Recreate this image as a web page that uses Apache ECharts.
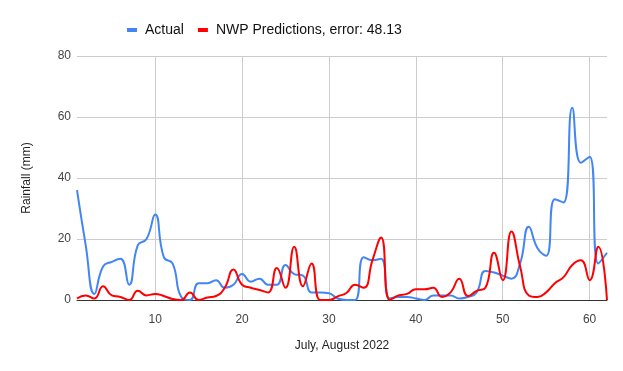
<!DOCTYPE html>
<html>
<head>
<meta charset="utf-8">
<script src="https://cdn.jsdelivr.net/npm/echarts@6/dist/echarts.min.js"></script>
<style>
  html, body { margin: 0; padding: 0; background: #fff; }
  #main { width: 623px; height: 371px; }
</style>
</head>
<body>
<div id="main"></div>
<script>
// day of July/August 2022 (1..62)
var days = [];
for (var d = 1; d <= 62; d++) days.push(d);

var actual = [
  36, 18, 2, 11, 12.5, 13.5, 5, 18, 20, 28,
  14, 12, 1, 0, 5.5, 5.5, 6.5, 4, 5, 8.5,
  6, 7, 5, 5, 11.5, 8.5, 8, 2.5, 2.5, 2.2,
  0.5, 0, 0, 14, 13, 13.5, 0.5, 1, 1, 0.5,
  0, 1.5, 1.5, 1.5, 0.5, 1, 2.5, 9.5, 9, 8,
  7, 12, 24, 17, 14.5, 33, 32, 63, 45, 47,
  12, 15.5
];

var nwp = [
  0.5, 1.5, 0.5, 4.5, 1.5, 1, 0, 3, 1.5, 2,
  1.3, 0.3, 0, 2.5, 0, 0.8, 1.3, 4, 10, 5,
  4, 3.3, 2.5, 10.5, 4, 17.5, 4.5, 12, 0, 0,
  1.2, 2.3, 5, 4, 13, 20.5, 0, 1.5, 2, 3.5,
  3.5, 4, 1, 2.5, 7, 1.3, 3, 4, 15.5, 6.5,
  22.5, 11, 1.5, 1, 2.5, 5.5, 7.5, 11.5, 13, 6.5,
  17.5, 0
];

function pairs(vals) {
  return vals.map(function (v, i) { return [days[i], v]; });
}

var font = 'Arial, "Liberation Sans", sans-serif';

var option = {
  backgroundColor: '#fff',
  animation: false,
  textStyle: { fontFamily: font },
  legend: {
    top: 18,
    left: 122,
    icon: 'rect',
    itemWidth: 10,
    itemHeight: 4,
    itemGap: 14,
    textStyle: { fontSize: 14, color: '#111', fontFamily: font, padding: [0, 0, 0, 3] },
    data: ['Actual', 'NWP Predictions, error: 48.13']
  },
  grid: { left: 77, right: 16, top: 56, bottom: 71 },
  xAxis: {
    type: 'value',
    min: 1,
    max: 62,
    name: 'July, August 2022',
    nameLocation: 'middle',
    nameGap: 40,
    nameTextStyle: { fontSize: 12, color: '#222', fontFamily: font },
    axisLine: { show: true, lineStyle: { color: '#333', width: 1 } },
    axisTick: { show: false },
    axisLabel: {
      fontSize: 12, color: '#444', margin: 14,
      formatter: function (v) { return v % 10 === 0 ? String(v) : ''; }
    },
    splitLine: { show: true, showMinLine: false, showMaxLine: false, lineStyle: { color: '#ccc', width: 1 } }
  },
  yAxis: {
    type: 'value',
    min: 0,
    max: 80,
    interval: 20,
    name: 'Rainfall (mm)',
    nameLocation: 'middle',
    nameGap: 44,
    nameTextStyle: { fontSize: 12, color: '#222', fontFamily: font },
    axisLine: { show: false },
    axisTick: { show: false },
    axisLabel: { fontSize: 12, color: '#444', margin: 6 },
    splitLine: { lineStyle: { color: '#ccc', width: 1 } }
  },
  series: [
    {
      name: 'Actual',
      type: 'line',
      data: pairs(actual),
      smooth: 0.5,
      showSymbol: false,
      symbol: 'none',
      color: '#4285F4',
      lineStyle: { width: 2, color: '#4285F4' }
    },
    {
      name: 'NWP Predictions, error: 48.13',
      type: 'line',
      data: pairs(nwp),
      smooth: 0.5,
      showSymbol: false,
      symbol: 'none',
      color: '#FF0000',
      lineStyle: { width: 2, color: '#FF0000' }
    }
  ]
};

var myChart = echarts.init(document.getElementById('main'));
myChart.setOption(option);
</script>
</body>
</html>
